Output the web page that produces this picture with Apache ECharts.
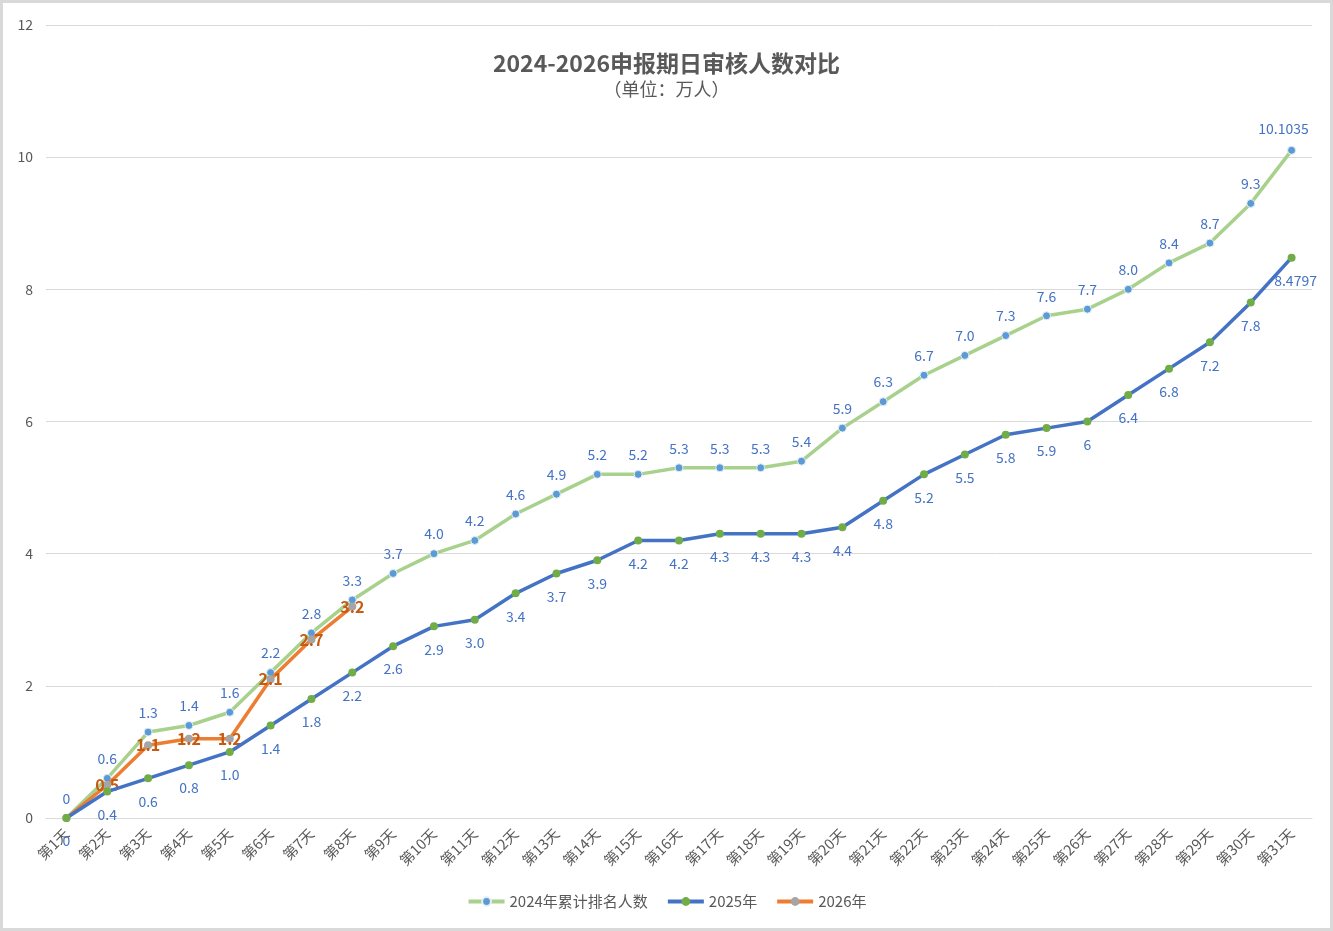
<!DOCTYPE html>
<html>
<head>
<meta charset="utf-8">
<script src="https://cdn.jsdelivr.net/npm/echarts@6/dist/echarts.min.js"></script>
<style>
  html, body { margin: 0; padding: 0; background: #d9d9d9; }
  #frame { position: absolute; left: 3px; top: 3px; width: 1327px; height: 925px; background: #fff; }
  #line-chart { position: absolute; left: -3px; top: -3px; width: 1333px; height: 931px; }
</style>
</head>
<body>
<div id="frame"><div id="line-chart"></div></div>
<script>
var days = [];
for (var i = 1; i <= 31; i++) days.push('第' + i + '天');

var v2024 = [0, 0.6, 1.3, 1.4, 1.6, 2.2, 2.8, 3.3, 3.7, 4.0, 4.2, 4.6, 4.9, 5.2, 5.2, 5.3, 5.3, 5.3, 5.4, 5.9, 6.3, 6.7, 7.0, 7.3, 7.6, 7.7, 8.0, 8.4, 8.7, 9.3, 10.1035];
var t2024 = ['0', '0.6', '1.3', '1.4', '1.6', '2.2', '2.8', '3.3', '3.7', '4.0', '4.2', '4.6', '4.9', '5.2', '5.2', '5.3', '5.3', '5.3', '5.4', '5.9', '6.3', '6.7', '7.0', '7.3', '7.6', '7.7', '8.0', '8.4', '8.7', '9.3', '10.1035'];

var v2025 = [0, 0.4, 0.6, 0.8, 1.0, 1.4, 1.8, 2.2, 2.6, 2.9, 3.0, 3.4, 3.7, 3.9, 4.2, 4.2, 4.3, 4.3, 4.3, 4.4, 4.8, 5.2, 5.5, 5.8, 5.9, 6, 6.4, 6.8, 7.2, 7.8, 8.4797];
var t2025 = ['0', '0.4', '0.6', '0.8', '1.0', '1.4', '1.8', '2.2', '2.6', '2.9', '3.0', '3.4', '3.7', '3.9', '4.2', '4.2', '4.3', '4.3', '4.3', '4.4', '4.8', '5.2', '5.5', '5.8', '5.9', '6', '6.4', '6.8', '7.2', '7.8', '8.4797'];

var v2026 = [0, 0.5, 1.1, 1.2, 1.2, 2.1, 2.7, 3.2];
var t2026 = ['', '0.5', '1.1', '1.2', '1.2', '2.1', '2.7', '3.2'];

var font = 'Noto Sans CJK SC';

function lastLabel(vals, dx, dy) {
    return vals.map(function (v, i) {
        if (i !== vals.length - 1) return v;
        return { value: v, label: { offset: [dx, dy] } };
    });
}

var myChart = echarts.init(document.getElementById('line-chart'));

var option = {
    textStyle: { fontFamily: font },
    title: {
        text: '2024-2026申报期日审核人数对比',
        subtext: '（单位：万人）',
        left: 'center',
        top: 47,
        itemGap: 5,
        textStyle: { fontSize: 23, fontWeight: 'bold', color: '#595959', fontFamily: font },
        subtextStyle: { fontSize: 18, color: '#595959', fontFamily: font }
    },
    legend: {
        bottom: 17,
        left: 'center',
        itemWidth: 36,
        itemHeight: 11,
        itemGap: 18,
        lineStyle: { width: 4 },
        textStyle: { fontSize: 15, color: '#595959', fontFamily: font },
        data: ['2024年累计排名人数', '2025年', '2026年']
    },
    grid: { left: 46, right: 21, top: 25, bottom: 113 },
    xAxis: {
        type: 'category',
        data: days,
        boundaryGap: true,
        axisLine: { lineStyle: { color: '#d9d9d9' } },
        axisTick: { show: false },
        axisLabel: { rotate: 45, color: '#595959', fontSize: 14.5, margin: 13, interval: 0 }
    },
    yAxis: {
        type: 'value',
        min: 0,
        max: 12,
        interval: 2,
        axisLabel: { color: '#595959', fontSize: 14, margin: 13 },
        splitLine: { lineStyle: { color: '#d9d9d9' } }
    },
    series: [{
        name: '2024年累计排名人数',
        type: 'line',
        data: lastLabel(v2024, -8, -2),
        symbol: 'circle',
        symbolSize: 8,
        lineStyle: { color: '#a9d18e', width: 3.5 },
        itemStyle: { color: '#5b9bd5', borderColor: '#e8eef6', borderWidth: 1 },
        label: {
            show: true, position: 'top', distance: 8,
            color: '#4472c4', fontSize: 14,
            formatter: function (p) { return t2024[p.dataIndex]; }
        },
        z: 2
    }, {
        name: '2025年',
        type: 'line',
        data: lastLabel(v2025, 4, 0),
        symbol: 'circle',
        symbolSize: 8,
        lineStyle: { color: '#4472c4', width: 3.5 },
        itemStyle: { color: '#70ad47' },
        label: {
            show: true, position: 'bottom', distance: 12,
            color: '#4472c4', fontSize: 14,
            formatter: function (p) { return t2025[p.dataIndex]; }
        },
        z: 4
    }, {
        name: '2026年',
        type: 'line',
        data: v2026,
        symbol: 'circle',
        symbolSize: 8,
        lineStyle: { color: '#ed7d31', width: 3.5 },
        itemStyle: { color: '#a5a5a5' },
        label: {
            show: true, position: 'inside',
            color: '#c55a11', fontSize: 16, fontWeight: 'bold',
            formatter: function (p) { return t2026[p.dataIndex]; }
        },
        z: 3
    }]
};

myChart.setOption(option);
</script>
</body>
</html>
